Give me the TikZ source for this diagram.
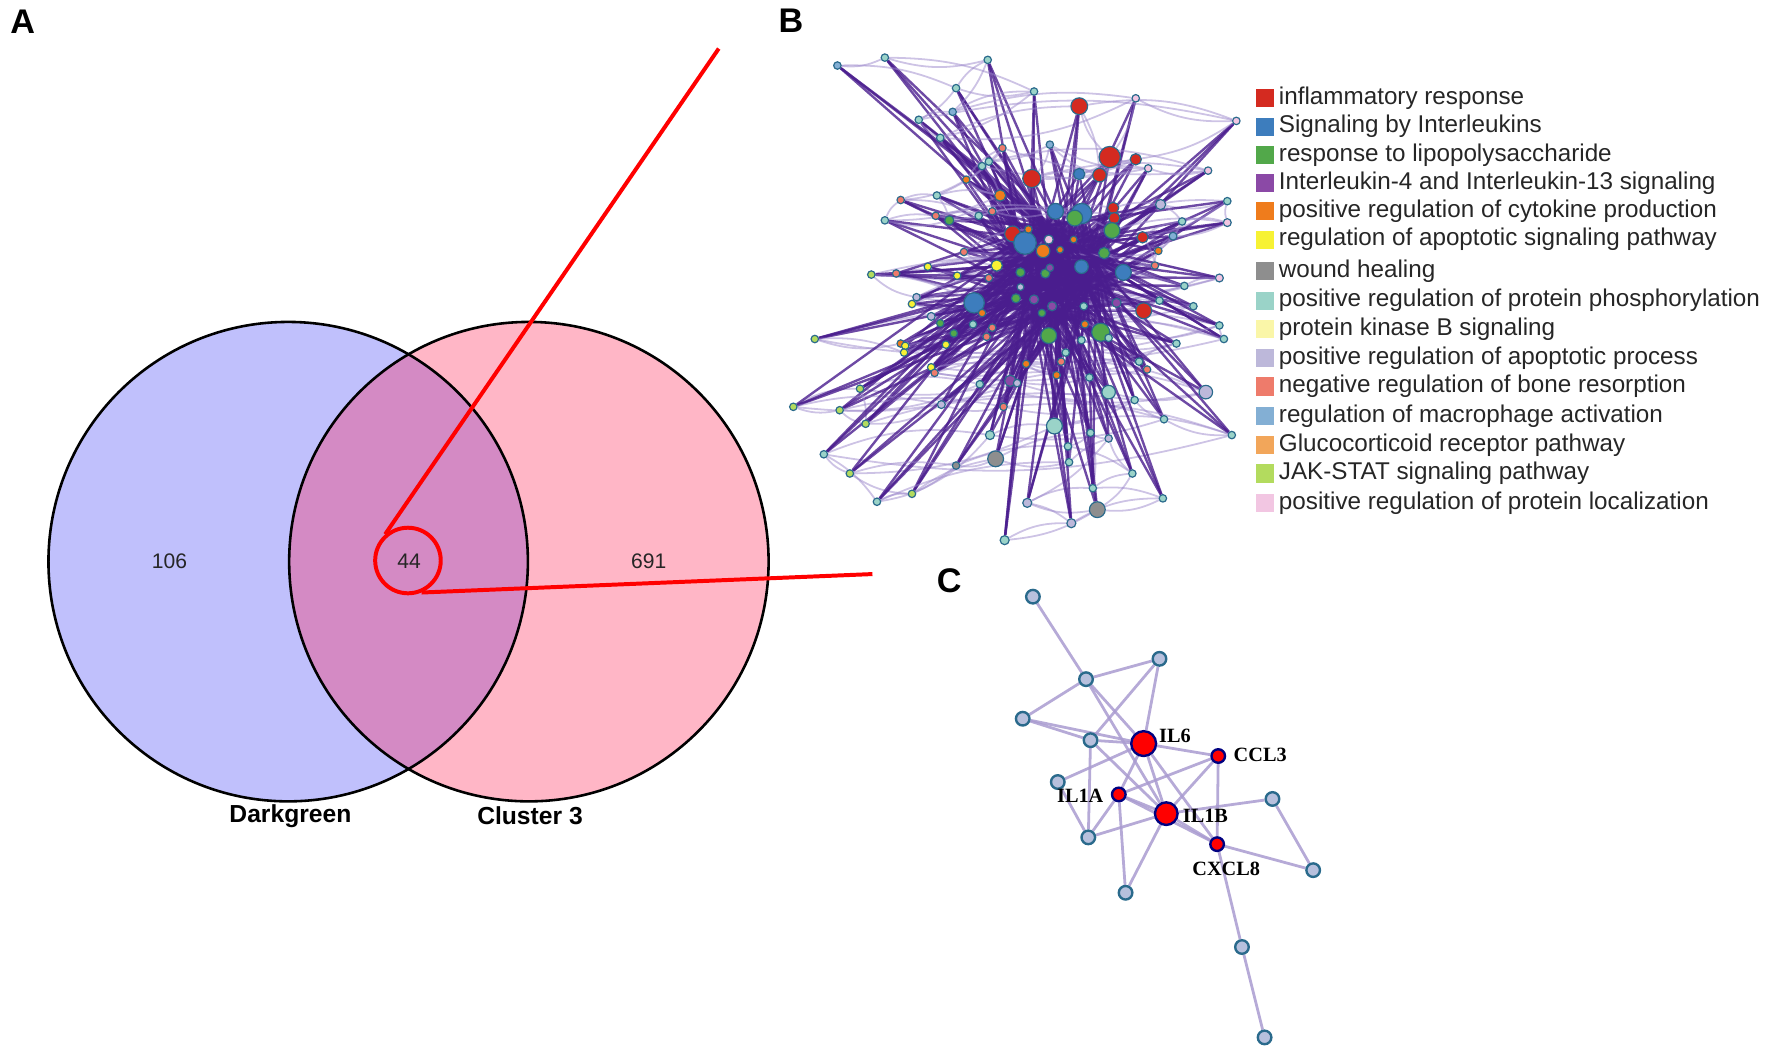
\documentclass[tikz,border=0pt]{standalone}
\usepackage{fontspec}
\setmainfont{Liberation Sans}
\newfontfamily\genefont{Liberation Serif}
\usepackage{tikz}
\usetikzlibrary{backgrounds}

\definecolor{vennleft}{RGB}{192,192,252}
\definecolor{vennright}{RGB}{255,182,198}
\definecolor{vennmid}{RGB}{212,138,196}
\definecolor{R}{HTML}{D42A20}
\definecolor{BL}{HTML}{3D7DBD}
\definecolor{G}{HTML}{52A84A}
\definecolor{P}{HTML}{8B49A6}
\definecolor{O}{HTML}{EF7C1C}
\definecolor{Y}{HTML}{F7F234}
\definecolor{GR}{HTML}{8E8E8E}
\definecolor{T}{HTML}{9AD3C8}
\definecolor{PY}{HTML}{FAF6A8}
\definecolor{LV}{HTML}{BDB8DA}
\definecolor{S}{HTML}{EE7B6B}
\definecolor{LB}{HTML}{83AFD4}
\definecolor{LO}{HTML}{F2A65A}
\definecolor{YG}{HTML}{B3DB5E}
\definecolor{PK}{HTML}{F2C6E2}
\definecolor{netdark}{HTML}{4A1D8E}
\definecolor{netlight}{HTML}{9C88CB}
\definecolor{nodeline}{HTML}{2A6A8C}
\definecolor{cedge}{HTML}{A99BD0}
\definecolor{cnode}{HTML}{B7C0DD}

\tikzset{
	panel/.style={font=\bfseries\fontsize{8.6}{9}\selectfont},
	vennlabel/.style={font=\bfseries\fontsize{6.2}{7}\selectfont},
	count/.style={font=\fontsize{5.3}{6}\selectfont, text=black!85},
	redline/.style={red, line width=1pt},
	darkedge/.style={netdark, line width=0.6pt, opacity=0.8},
	lightedge/.style={netlight, line width=0.45pt, opacity=0.5},
	bnode/.style={circle, draw=nodeline, line width=0.3pt, inner sep=0pt},
	legsq/.style={minimum size=0.16cm, inner sep=0pt},
	legtext/.style={anchor=west, inner sep=0pt, text=black!85, font=\fontsize{6.1}{7}\selectfont},
	cedgestyle/.style={cedge, line width=0.7pt, opacity=0.85},
	gene/.style={circle, draw=nodeline, line width=0.6pt, fill=cnode, inner sep=0pt, minimum size=0.12cm},
	hubgene/.style={circle, draw=blue!50!black, line width=0.6pt, fill=red, inner sep=0pt},
	genelabel/.style={font=\genefont\bfseries\fontsize{5.1}{6}\selectfont, inner sep=0pt}
}

\def\bnodes{741/58/LB/3.3, 783/51/T/3.3, 874/53/T/3.3, 846/78/T/3.3, 915/81/T/3.3,
	843/99/LB/3.3, 813/106/T/3.3, 832/122/T/3.3, 1005/87/PK/3.3, 1094/107/PK/3.3,
	955/94/R/7.4, 982/139/R/9.4, 1005/141/R/5, 973/155/R/6, 955/154/BL/5,
	913/158/R/8, 929/128/LB/3.3, 1016/149/PK/3.3, 1069/151/PK/3.3, 875/143/T/3.3,
	869/147/T/3.3, 887/131/S/3.3, 855/159/O/3.3, 885/173/O/5, 829/173/T/3.3,
	797/177/S/3.3, 783/195/T/3.3, 840/195/G/4, 866/191/T/3.3, 828/191/S/3.3,
	878/187/S/3.3, 934/187/BL/7, 957/189/BL/9, 951/193/G/7, 985/184/R/5,
	986/193/R/5, 984/204/G/7, 1027/181/LV/4.5, 1086/178/T/3.3, 1086/197/PK/3.5,
	1046/196/T/3.3, 1011/210/R/5, 1038/209/LB/3.5, 1025/222/O/3.3, 1022/235/S/3.3,
	994/241/BL/7, 977/224/G/5, 957/236/BL/6, 950/212/O/3, 938/221/O/3,
	928/212/PK/4, 923/222/O/6, 896/207/R/7, 907/215/BL/10, 910/203/O/3.3,
	853/223/S/3.3, 882/235/Y/5, 903/241/G/4, 925/242/G/4, 929/237/P/3.3,
	821/236/Y/3.3, 847/244/Y/3.3, 793/242/S/3.3, 1079/246/PK/3.5, 1048/253/T/3.3,
	771/243/YG/3.3, 811/263/LV/3.3, 807/269/Y/3.3, 862/268/BL/9, 875/246/S/3.3,
	903/254/LV/3, 899/264/G/4, 915/265/P/4, 931/271/P/4, 922/277/G/3.3,
	1012/275/R/7, 988/268/P/4, 959/271/T/3.3, 1026/266/T/3.3, 1056/271/T/3.3,
	824/280/LV/3.5, 832/286/G/3.3, 869/277/O/3.3, 878/290/S/3.3, 861/287/T/3.3,
	960/287/O/3.3, 974/294/G/8, 1079/288/T/3.3, 1083/300/T/3.3, 721/300/YG/3.3,
	797/304/O/3.3, 801/306/Y/3.3, 800/312/Y/3.3, 844/295/G/3.3, 837/305/Y/3.3,
	873/298/S/3.3, 928/297/G/7, 981/299/T/3.3, 943/312/T/3.3, 957/301/T/3.3,
	1041/304/T/3.3, 1008/320/T/3.3, 1015/327/S/3.3, 824/325/Y/3.3, 827/330/S/3.3,
	908/322/O/3.3, 935/332/O/3.3, 939/320/S/3.3, 964/334/T/3.3, 981/347/T/6,
	1067/347/LV/6, 894/337/P/5, 900/339/LV/3.3, 867/340/T/3.3, 761/344/YG/3.3,
	702/360/YG/3.3, 743/363/YG/3.3, 766/375/YG/3.3, 833/358/LV/3.5, 888/360/S/3.3,
	1004/354/T/3.3, 1030/371/T/3.3, 1090/385/T/3.3, 933/377/T/7, 876/385/T/4,
	729/402/T/3.3, 752/419/YG/3.3, 807/437/YG/3.3, 776/444/T/3.3, 846/412/GR/3.3,
	881/406/GR/7, 946/409/T/3.3, 945/395/T/3.3, 965/383/T/3.3, 981/388/LV/3.3,
	1002/419/T/3.3, 967/432/T/3.3, 909/445/LV/4, 971/451/GR/7, 1029/441/T/3.3,
	948/463/LV/4, 889/478/T/4}

\begin{document}
\begin{tikzpicture}[x=0.01cm, y=-0.01cm]
	\useasboundingbox (0,0) rectangle (1568,932.7);

	% A: venn
	\fill[vennleft] (255,497) circle[radius=2.12cm];
	\fill[vennright] (468,497) circle[radius=2.12cm];
	\begin{scope}
		\clip (255,497) circle[radius=2.12cm];
		\fill[vennmid] (468,497) circle[radius=2.12cm];
	\end{scope}
	\draw[line width=0.65pt] (255,497) circle[radius=2.12cm];
	\draw[line width=0.65pt] (468,497) circle[radius=2.12cm];

	\node[panel] (labA) at (20,19) {A};
	\node[count] (n106) at (150,497) {106};
	\node[count] (n44) at (362,497) {44};
	\node[count] (n691) at (574,497) {691};
	\node[vennlabel] (dark) at (257,722) {Darkgreen};
	\node[vennlabel] (clus) at (469,722) {Cluster 3};

	\node[circle, draw=red, line width=1pt, minimum size=0.58cm, inner sep=0pt] (zoom) at (361,496) {};
	\coordinate (toB) at (636,43);
	\coordinate (toC) at (772,508);
	\draw[redline] (zoom.131) -- (toB);
	\draw[redline] (zoom.-67) -- (toC);

	% B: network
	\node[panel] (labB) at (700,18) {B};
	\coordinate (h0) at (915,225);
	\coordinate (h1) at (945,215);
	\coordinate (h2) at (935,245);
	\coordinate (h3) at (910,258);
	\coordinate (h4) at (962,252);
	\coordinate (h5) at (935,275);
	\coordinate (h6) at (925,200);
	\coordinate (h7) at (970,230);
	\begin{pgfonlayer}{background}
		\fill[netdark, opacity=0.75] (935,240) ellipse[x radius=0.55cm, y radius=0.45cm];
	\end{pgfonlayer}
	\foreach \x/\y/\c/\r [count=\i] in \bnodes {
		\pgfmathsetmacro\d{\r*0.02}
		\node[bnode, fill=\c, minimum size=\d cm] (b\i) at (\x,\y) {};
		\pgfmathtruncatemacro\ha{mod(\i,8)}
		\pgfmathtruncatemacro\hb{mod(3*\i+1,8)}
		\pgfmathtruncatemacro\hc{mod(5*\i+2,8)}
		\begin{pgfonlayer}{background}
			\ifnum\i>1
				\pgfmathtruncatemacro\j{\i-1}
				\draw[lightedge] (b\i) to[bend left=15] (b\j);
			\fi
			\ifnum\i>3
				\pgfmathtruncatemacro\k{\i-3}
				\draw[lightedge] (b\i) to[bend right=12] (b\k);
			\fi
			\draw[darkedge] (b\i) -- (h\ha);
			\draw[darkedge] (b\i) -- (h\hb);
			\draw[darkedge] (b\i) -- (h\hc);
		\end{pgfonlayer}
	}

	% legend
	\foreach \y/\c/\t [count=\i] in {
		87/R/inflammatory response,
		112/BL/Signaling by Interleukins,
		137/G/response to lipopolysaccharide,
		162/P/Interleukin-4 and Interleukin-13 signaling,
		187/O/positive regulation of cytokine production,
		212/Y/regulation of apoptotic signaling pathway,
		240/GR/wound healing,
		266/T/positive regulation of protein phosphorylation,
		291/PY/protein kinase B signaling,
		317/LV/positive regulation of apoptotic process,
		342/S/negative regulation of bone resorption,
		368/LB/regulation of macrophage activation,
		394/LO/Glucocorticoid receptor pathway,
		419/YG/JAK-STAT signaling pathway,
		445/PK/positive regulation of protein localization} {
		\node[legsq, fill=\c] (sq\i) at (1119,\y) {};
		\node[legtext] (leg\i) at (1131,\y) {\t};
	}

	% C: gene network
	\node[panel] (labC) at (840,514) {C};
	\node[gene] (c1) at (914,528) {};
	\node[gene] (c2) at (1026,583) {};
	\node[gene] (c3) at (961,601) {};
	\node[gene] (c4) at (905,636) {};
	\node[gene] (c5) at (965,655) {};
	\node[gene] (c6) at (936,692) {};
	\node[gene] (c7) at (1126,707) {};
	\node[gene] (c8) at (963,741) {};
	\node[gene] (c9) at (1162,770) {};
	\node[gene] (c10) at (996,790) {};
	\node[gene] (c11) at (1099,838) {};
	\node[gene] (c12) at (1119,918) {};
	\node[hubgene, minimum size=0.22cm] (il6) at (1012,658) {};
	\node[hubgene, minimum size=0.12cm] (ccl3) at (1078,669) {};
	\node[hubgene, minimum size=0.12cm] (il1a) at (990,703) {};
	\node[hubgene, minimum size=0.2cm] (il1b) at (1032,720) {};
	\node[hubgene, minimum size=0.12cm] (cxcl8) at (1077,747) {};

	\begin{pgfonlayer}{background}
		\foreach \a/\b in {c1/c3, c3/c2, c3/c4, c3/il6, c3/il1b, c2/il6, c2/c5, c4/c5, c4/il6,
			c5/il6, c5/c8, c5/il1b, il6/ccl3, il6/il1a, il6/il1b, il6/cxcl8, il6/c6,
			ccl3/il1a, ccl3/il1b, ccl3/cxcl8, c6/c8, il1a/il1b, il1a/cxcl8, il1a/c8,
			il1a/c10, il1b/c7, il1b/c8, il1b/cxcl8, il1b/c10, c7/c9, cxcl8/c9, cxcl8/c11, c11/c12}
			\draw[cedgestyle] (\a) -- (\b);
	\end{pgfonlayer}

	\node[genelabel, anchor=west] (lil6) at (1025,651) {IL6};
	\node[genelabel, anchor=west] (lccl3) at (1091,668) {CCL3};
	\node[genelabel, anchor=east] (lil1a) at (977,704) {IL1A};
	\node[genelabel, anchor=west] (lil1b) at (1046,722) {IL1B};
	\node[genelabel] (lcxcl8) at (1085,769) {CXCL8};
\end{tikzpicture}
\end{document}
